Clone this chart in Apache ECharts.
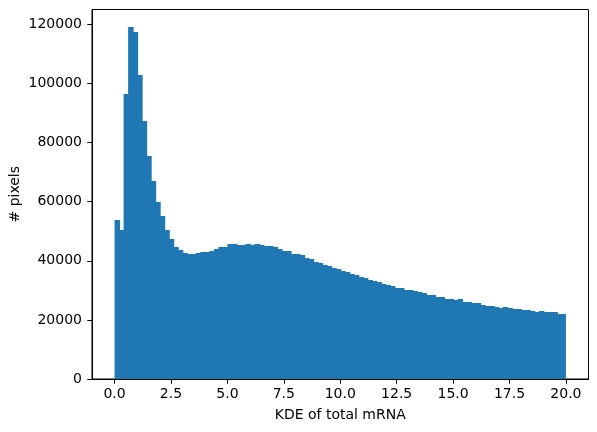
<!DOCTYPE html>
<html>
<head>
<meta charset="utf-8">
<script src="https://cdn.jsdelivr.net/npm/echarts@6/dist/echarts.min.js"></script>
<style>html,body{margin:0;padding:0;background:#fff}#c{width:597px;height:432px}</style>
</head>
<body>
<div id="c"></div>
<script>
// Histogram: 100 bins over [0, 20]
const binStart = 0;
const binWidth = 0.2;
const counts = [
  53790, 50410, 96420, 119080, 117390, 102840, 87280, 75440, 66980, 59880,
  55140, 50410, 47360, 44660, 43640, 42630, 42290, 42290, 42630, 42960,
  42960, 43300, 43980, 44660, 44660, 45670, 45670, 45330, 45330, 45670,
  45330, 45670, 45330, 44990, 44990, 44660, 43980, 43300, 43300, 42290,
  42290, 41950, 40930, 40600, 39580, 39240, 38570, 38230, 37550, 37210,
  36540, 36200, 35520, 35180, 34510, 34170, 33490, 33150, 32820, 32140,
  31800, 31460, 30790, 30790, 30110, 30110, 29770, 29430, 29090, 28420,
  28420, 27740, 27740, 27060, 27060, 26730, 27060, 26050, 26050, 25710,
  25710, 25030, 24700, 24700, 24360, 24020, 24360, 24020, 23680, 23680,
  23340, 23340, 23000, 22670, 23000, 22670, 22670, 22670, 21990, 21990
];
const xTicks = [0, 2.5, 5, 7.5, 10, 12.5, 15, 17.5, 20];
const yTicks = [0, 20000, 40000, 60000, 80000, 100000, 120000];

const data = counts.map((v, i) => [binStart + i * binWidth, binStart + (i + 1) * binWidth, v]);

const chart = echarts.init(document.getElementById('c'), null, {renderer: 'canvas'});
const font = 'DejaVu Sans';
chart.setOption({
  animation: false,
  grid: {left: 92, right: 8.5, top: 9.5, bottom: 53, show: true, borderColor: '#000', borderWidth: 1,
    backgroundColor: 'transparent', containLabel: false, outerBoundsMode: 'none'},
  xAxis: {
    type: 'value', min: -1, max: 21,
    name: 'KDE of total mRNA', nameLocation: 'middle', nameGap: 29, nameMoveOverlap: false,
    nameTextStyle: {fontFamily: font, fontSize: 14, color: '#000'},
    splitLine: {show: false},
    axisLine: {show: true, onZero: false, lineStyle: {color: '#000', width: 1}},
    axisTick: {show: true, length: 4.7, lineStyle: {color: '#000'}, customValues: xTicks},
    axisLabel: {fontFamily: font, fontSize: 14, color: '#000', margin: 8, customValues: xTicks,
      formatter: v => v.toFixed(1)}
  },
  yAxis: {
    type: 'value', min: 0, max: 125000,
    name: '# pixels', nameLocation: 'middle', nameGap: 70, nameRotate: 90, nameMoveOverlap: false,
    nameTextStyle: {fontFamily: font, fontSize: 14, color: '#000'},
    splitLine: {show: false},
    axisLine: {show: true, onZero: false, lineStyle: {color: '#000', width: 1}},
    axisTick: {show: true, length: 4.7, lineStyle: {color: '#000'}, customValues: yTicks},
    axisLabel: {fontFamily: font, fontSize: 14, color: '#000', margin: 10, customValues: yTicks,
      formatter: v => String(v)}
  },
  series: [{
    type: 'custom',
    data: data,
    encode: {x: [0, 1], y: 2},
    renderItem: function (params, api) {
      const p0 = api.coord([api.value(0), api.value(2)]);
      const p1 = api.coord([api.value(1), 0]);
      const extra = params.dataIndex < counts.length - 1 ? 1 : 0;
      return {
        type: 'rect',
        shape: {x: p0[0], y: p0[1], width: p1[0] - p0[0] + extra, height: p1[1] - p0[1]},
        style: {fill: '#1f77b4', stroke: null}
      };
    }
  }]
});
</script>
</body>
</html>
